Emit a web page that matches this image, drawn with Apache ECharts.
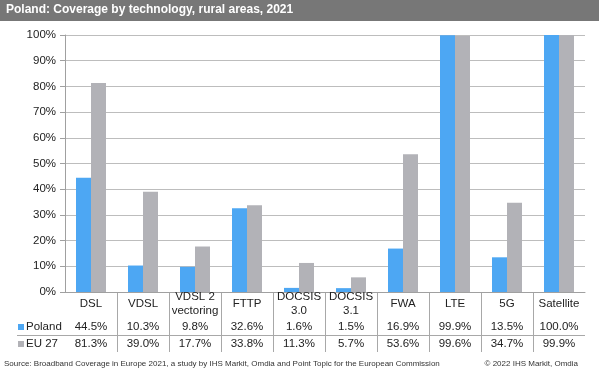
<!DOCTYPE html>
<html><head><meta charset="utf-8">
<script src="https://cdn.jsdelivr.net/npm/echarts@6/dist/echarts.min.js"></script>
<style>html,body{margin:0;padding:0;background:#fff}#c{width:599px;height:374px}</style>
</head><body><div id="c"></div>
<script>
const titleText = 'Poland: Coverage by technology, rural areas, 2021';
const categories = ['DSL','VDSL','VDSL 2\nvectoring','FTTP','DOCSIS\n3.0','DOCSIS\n3.1','FWA','LTE','5G','Satellite'];
const seriesNames = ['Poland','EU 27'];
const poland = [44.5,10.3,9.8,32.6,1.6,1.5,16.9,99.9,13.5,100.0];
const eu27 = [81.3,39.0,17.7,33.8,11.3,5.7,53.6,99.6,34.7,99.9];
const yTicks = [0,10,20,30,40,50,60,70,80,90,100];
const sourceText = 'Source: Broadband Coverage in Europe 2021, a study by IHS Markit, Omdia and Point Topic for the European Commission';
const copyrightText = '\u00a9 2022 IHS Markit, Omdia';

const FONT = 'Liberation Sans, Arial, sans-serif';
const fmt = v => v.toFixed(1) + '%';
const chart = echarts.init(document.getElementById('c'));
const hiddenAxisBase = {
  type:'category', gridIndex:0, position:'bottom',
  axisLine:{show:false}, axisTick:{show:false}, splitLine:{show:false}
};
chart.setOption({
  animation:false,
  color:['#4DA7F3','#B2B2B7'],
  textStyle:{fontFamily:FONT},
  grid:[
    {left:65, right:14, top:35, height:257},
    {left:65, right:14, top:292, height:60}
  ],
  legend:{
    orient:'vertical', left:18, top:321, itemWidth:6, itemHeight:6, itemGap:5, padding:[0,0,0,0],
    icon:'rect', textStyle:{fontFamily:FONT, fontSize:11.5, color:'#222', padding:[0,0,0,-3]},
    data:seriesNames
  },
  xAxis:[
    {type:'category', gridIndex:0, data:categories,
     axisLine:{lineStyle:{color:'#a0a0a0', width:1}}, axisTick:{show:false},
     axisLabel:{interval:0, margin:12, verticalAlign:'middle', fontSize:11.5, lineHeight:14, color:'#222', fontFamily:FONT}},
    Object.assign({}, hiddenAxisBase, {data:poland.map(fmt),
     axisLabel:{interval:0, margin:35, verticalAlign:'middle', fontSize:11.5, color:'#222', fontFamily:FONT}}),
    Object.assign({}, hiddenAxisBase, {data:eu27.map(fmt),
     axisLabel:{interval:0, margin:52, verticalAlign:'middle', fontSize:11.5, color:'#222', fontFamily:FONT}}),
    {type:'category', gridIndex:1, data:categories,
     axisLine:{show:false}, axisTick:{show:false}, axisLabel:{show:false},
     splitLine:{show:true, interval:0, showMinLine:false, showMaxLine:false, lineStyle:{color:'#a8a8a8', width:1}}}
  ],
  yAxis:[
    {type:'value', gridIndex:0, min:0, max:100, interval:10,
     axisLine:{show:true, lineStyle:{color:'#a0a0a0'}},
     axisTick:{show:true, length:5, lineStyle:{color:'#a0a0a0'}},
     splitLine:{lineStyle:{color:'#bdbdbd'}},
     axisLabel:{formatter:'{value}%', fontSize:11.5, color:'#222', margin:9, fontFamily:FONT}},
    {type:'value', gridIndex:1, show:false}
  ],
  series:[
    {name:seriesNames[0], type:'bar', data:poland, barWidth:15, barGap:'0%', xAxisIndex:0, yAxisIndex:0},
    {name:seriesNames[1], type:'bar', data:eu27, barWidth:15, barGap:'0%', xAxisIndex:0, yAxisIndex:0}
  ],
  graphic:[
    {type:'rect', left:0, top:0, shape:{width:599, height:21}, style:{fill:'#777777'}},
    {type:'text', left:6, top:4, style:{text:titleText, fill:'#fff', font:'bold 12px ' + FONT}},
    {type:'line', shape:{x1:17, y1:335.5, x2:585, y2:335.5}, style:{stroke:'#a8a8a8', lineWidth:1}},
    {type:'text', left:4, top:360, style:{text:sourceText, fill:'#333', font:'8px ' + FONT}},
    {type:'text', right:21, top:360, style:{text:copyrightText, fill:'#333', font:'8px ' + FONT}}
  ]
});
</script></body></html>
